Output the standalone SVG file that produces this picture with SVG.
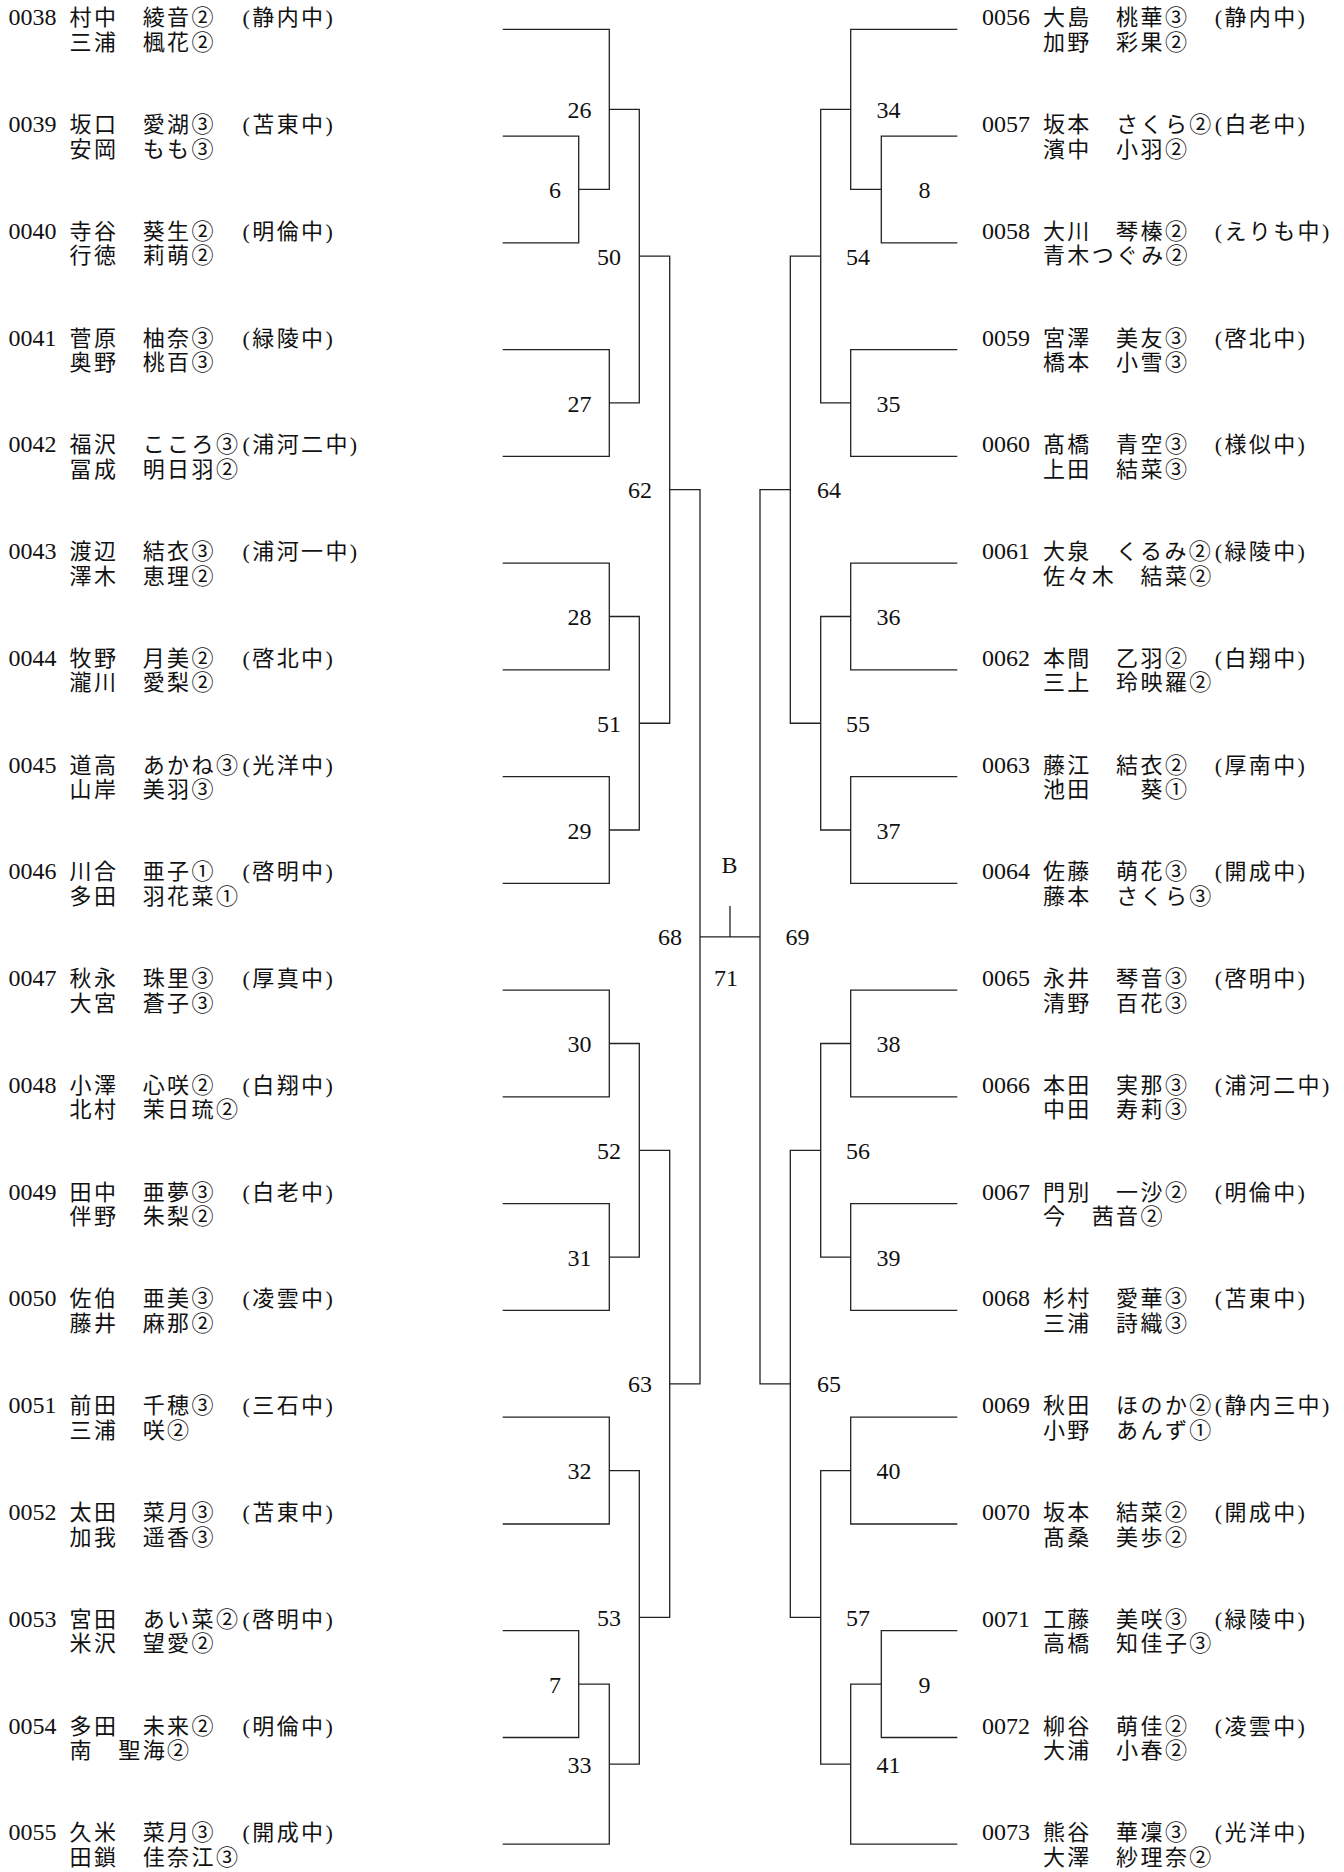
<svg xmlns="http://www.w3.org/2000/svg" width="1344" height="1872" viewBox="0 0 1344 1872">
<style>
.t{font-family:"Liberation Serif","Noto Sans CJK JP",serif;font-size:22px;letter-spacing:2.4px;fill:#111}
.n{font-family:"Liberation Serif",serif;font-size:24px;letter-spacing:0}
.lb{font-family:"Liberation Serif",serif;font-size:24px;fill:#111}
.le{text-anchor:end}
.ls{text-anchor:start}
.lm{text-anchor:middle}
.l{fill:none;stroke:#222;stroke-width:1.3}
</style>
<rect width="1344" height="1872" fill="#fff"/>
<g id="connectors" class="l">
<path d="M502.7 136.1H578.7V242.8H502.7"/>
<path d="M502.7 29.3H609.3V189.45H578.7"/>
<path d="M502.7 349.6H609.3V456.3H502.7"/>
<path d="M609.3 109.4H639.3V402.95H609.3"/>
<path d="M502.7 563.1H609.3V669.9H502.7"/>
<path d="M502.7 776.6H609.3V883.4H502.7"/>
<path d="M609.3 616.5H639.3V830H609.3"/>
<path d="M639.3 256.2H669.7V723.25H639.3"/>
<path d="M502.7 990.1H609.3V1096.9H502.7"/>
<path d="M502.7 1203.7H609.3V1310.4H502.7"/>
<path d="M609.3 1043.5H639.3V1257.05H609.3"/>
<path d="M502.7 1417.2H609.3V1524H502.7"/>
<path d="M502.7 1630.7H578.7V1737.5H502.7"/>
<path d="M578.7 1684.1H609.3V1844.2H502.7"/>
<path d="M609.3 1470.6H639.3V1764.15H609.3"/>
<path d="M639.3 1150.3H669.7V1617.4H639.3"/>
<path d="M669.7 489.7H700V1383.85H669.7"/>
<path d="M957.3 136.1H881.3V242.8H957.3"/>
<path d="M957.3 29.3H850.7V189.45H881.3"/>
<path d="M957.3 349.6H850.7V456.3H957.3"/>
<path d="M850.7 109.4H820.7V402.95H850.7"/>
<path d="M957.3 563.1H850.7V669.9H957.3"/>
<path d="M957.3 776.6H850.7V883.4H957.3"/>
<path d="M850.7 616.5H820.7V830H850.7"/>
<path d="M820.7 256.2H790.3V723.25H820.7"/>
<path d="M957.3 990.1H850.7V1096.9H957.3"/>
<path d="M957.3 1203.7H850.7V1310.4H957.3"/>
<path d="M850.7 1043.5H820.7V1257.05H850.7"/>
<path d="M957.3 1417.2H850.7V1524H957.3"/>
<path d="M957.3 1630.7H881.3V1737.5H957.3"/>
<path d="M881.3 1684.1H850.7V1844.2H957.3"/>
<path d="M850.7 1470.6H820.7V1764.15H850.7"/>
<path d="M820.7 1150.3H790.3V1617.4H820.7"/>
<path d="M790.3 489.7H760V1383.85H790.3"/>
<path d="M700 936.8H760M730 936.8V906"/>
</g>
<g id="matches" class="lb">
<text id="m6" class="le" x="561" y="198.05">6</text>
<text id="m26" class="le" x="591.5" y="118">26</text>
<text id="m27" class="le" x="591.5" y="411.55">27</text>
<text id="m50" class="le" x="621" y="264.8">50</text>
<text id="m28" class="le" x="591.5" y="625.1">28</text>
<text id="m29" class="le" x="591.5" y="838.6">29</text>
<text id="m51" class="le" x="621" y="731.85">51</text>
<text id="m62" class="le" x="652" y="498.3">62</text>
<text id="m30" class="le" x="591.5" y="1052.1">30</text>
<text id="m31" class="le" x="591.5" y="1265.65">31</text>
<text id="m52" class="le" x="621" y="1158.9">52</text>
<text id="m32" class="le" x="591.5" y="1479.2">32</text>
<text id="m7" class="le" x="561" y="1692.7">7</text>
<text id="m33" class="le" x="591.5" y="1772.75">33</text>
<text id="m53" class="le" x="621" y="1626">53</text>
<text id="m63" class="le" x="652" y="1392.45">63</text>
<text id="m68" class="le" x="682" y="945.4">68</text>
<text id="m34" class="ls" x="876.5" y="118">34</text>
<text id="m8" class="ls" x="918.5" y="198.05">8</text>
<text id="m54" class="ls" x="846" y="264.8">54</text>
<text id="m35" class="ls" x="876.5" y="411.55">35</text>
<text id="m64" class="ls" x="817" y="498.3">64</text>
<text id="m36" class="ls" x="876.5" y="625.1">36</text>
<text id="m37" class="ls" x="876.5" y="838.6">37</text>
<text id="m55" class="ls" x="846" y="731.85">55</text>
<text id="m69" class="ls" x="785.5" y="945.4">69</text>
<text id="m38" class="ls" x="876.5" y="1052.1">38</text>
<text id="m39" class="ls" x="876.5" y="1265.65">39</text>
<text id="m56" class="ls" x="846" y="1158.9">56</text>
<text id="m65" class="ls" x="817" y="1392.45">65</text>
<text id="m40" class="ls" x="876.5" y="1479.2">40</text>
<text id="m9" class="ls" x="918.5" y="1692.7">9</text>
<text id="m41" class="ls" x="876.5" y="1772.75">41</text>
<text id="m57" class="ls" x="846" y="1626">57</text>
<text id="m71" class="lm" x="726" y="985.7">71</text>
<text id="mB" class="lm" x="729.5" y="873">B</text>
</g>
<g id="left-players" class="t">
<g id="p0038" transform="translate(0,29.3)"><text y="-4"><tspan class="n" x="8.5">0038</tspan><tspan x="69.5">村中</tspan><tspan x="142.7">綾音②</tspan><tspan x="242.5">(静内中)</tspan></text><text y="20.5"><tspan x="69.5">三浦</tspan><tspan x="142.7">楓花②</tspan></text></g>
<g id="p0039" transform="translate(0,136.1)"><text y="-4"><tspan class="n" x="8.5">0039</tspan><tspan x="69.5">坂口</tspan><tspan x="142.7">愛湖③</tspan><tspan x="242.5">(苫東中)</tspan></text><text y="20.5"><tspan x="69.5">安岡</tspan><tspan x="142.7">もも③</tspan></text></g>
<g id="p0040" transform="translate(0,242.8)"><text y="-4"><tspan class="n" x="8.5">0040</tspan><tspan x="69.5">寺谷</tspan><tspan x="142.7">葵生②</tspan><tspan x="242.5">(明倫中)</tspan></text><text y="20.5"><tspan x="69.5">行徳</tspan><tspan x="142.7">莉萌②</tspan></text></g>
<g id="p0041" transform="translate(0,349.6)"><text y="-4"><tspan class="n" x="8.5">0041</tspan><tspan x="69.5">菅原</tspan><tspan x="142.7">柚奈③</tspan><tspan x="242.5">(緑陵中)</tspan></text><text y="20.5"><tspan x="69.5">奥野</tspan><tspan x="142.7">桃百③</tspan></text></g>
<g id="p0042" transform="translate(0,456.3)"><text y="-4"><tspan class="n" x="8.5">0042</tspan><tspan x="69.5">福沢</tspan><tspan x="142.7">こころ③</tspan><tspan x="242.5">(浦河二中)</tspan></text><text y="20.5"><tspan x="69.5">冨成</tspan><tspan x="142.7">明日羽②</tspan></text></g>
<g id="p0043" transform="translate(0,563.1)"><text y="-4"><tspan class="n" x="8.5">0043</tspan><tspan x="69.5">渡辺</tspan><tspan x="142.7">結衣③</tspan><tspan x="242.5">(浦河一中)</tspan></text><text y="20.5"><tspan x="69.5">澤木</tspan><tspan x="142.7">恵理②</tspan></text></g>
<g id="p0044" transform="translate(0,669.9)"><text y="-4"><tspan class="n" x="8.5">0044</tspan><tspan x="69.5">牧野</tspan><tspan x="142.7">月美②</tspan><tspan x="242.5">(啓北中)</tspan></text><text y="20.5"><tspan x="69.5">瀧川</tspan><tspan x="142.7">愛梨②</tspan></text></g>
<g id="p0045" transform="translate(0,776.6)"><text y="-4"><tspan class="n" x="8.5">0045</tspan><tspan x="69.5">道高</tspan><tspan x="142.7">あかね③</tspan><tspan x="242.5">(光洋中)</tspan></text><text y="20.5"><tspan x="69.5">山岸</tspan><tspan x="142.7">美羽③</tspan></text></g>
<g id="p0046" transform="translate(0,883.4)"><text y="-4"><tspan class="n" x="8.5">0046</tspan><tspan x="69.5">川合</tspan><tspan x="142.7">亜子①</tspan><tspan x="242.5">(啓明中)</tspan></text><text y="20.5"><tspan x="69.5">多田</tspan><tspan x="142.7">羽花菜①</tspan></text></g>
<g id="p0047" transform="translate(0,990.1)"><text y="-4"><tspan class="n" x="8.5">0047</tspan><tspan x="69.5">秋永</tspan><tspan x="142.7">珠里③</tspan><tspan x="242.5">(厚真中)</tspan></text><text y="20.5"><tspan x="69.5">大宮</tspan><tspan x="142.7">蒼子③</tspan></text></g>
<g id="p0048" transform="translate(0,1096.9)"><text y="-4"><tspan class="n" x="8.5">0048</tspan><tspan x="69.5">小澤</tspan><tspan x="142.7">心咲②</tspan><tspan x="242.5">(白翔中)</tspan></text><text y="20.5"><tspan x="69.5">北村</tspan><tspan x="142.7">茉日琉②</tspan></text></g>
<g id="p0049" transform="translate(0,1203.7)"><text y="-4"><tspan class="n" x="8.5">0049</tspan><tspan x="69.5">田中</tspan><tspan x="142.7">亜夢③</tspan><tspan x="242.5">(白老中)</tspan></text><text y="20.5"><tspan x="69.5">伴野</tspan><tspan x="142.7">朱梨②</tspan></text></g>
<g id="p0050" transform="translate(0,1310.4)"><text y="-4"><tspan class="n" x="8.5">0050</tspan><tspan x="69.5">佐伯</tspan><tspan x="142.7">亜美③</tspan><tspan x="242.5">(凌雲中)</tspan></text><text y="20.5"><tspan x="69.5">藤井</tspan><tspan x="142.7">麻那②</tspan></text></g>
<g id="p0051" transform="translate(0,1417.2)"><text y="-4"><tspan class="n" x="8.5">0051</tspan><tspan x="69.5">前田</tspan><tspan x="142.7">千穂③</tspan><tspan x="242.5">(三石中)</tspan></text><text y="20.5"><tspan x="69.5">三浦</tspan><tspan x="142.7">咲②</tspan></text></g>
<g id="p0052" transform="translate(0,1524)"><text y="-4"><tspan class="n" x="8.5">0052</tspan><tspan x="69.5">太田</tspan><tspan x="142.7">菜月③</tspan><tspan x="242.5">(苫東中)</tspan></text><text y="20.5"><tspan x="69.5">加我</tspan><tspan x="142.7">遥香③</tspan></text></g>
<g id="p0053" transform="translate(0,1630.7)"><text y="-4"><tspan class="n" x="8.5">0053</tspan><tspan x="69.5">宮田</tspan><tspan x="142.7">あい菜②</tspan><tspan x="242.5">(啓明中)</tspan></text><text y="20.5"><tspan x="69.5">米沢</tspan><tspan x="142.7">望愛②</tspan></text></g>
<g id="p0054" transform="translate(0,1737.5)"><text y="-4"><tspan class="n" x="8.5">0054</tspan><tspan x="69.5">多田</tspan><tspan x="142.7">未来②</tspan><tspan x="242.5">(明倫中)</tspan></text><text y="20.5"><tspan x="69.5">南</tspan><tspan x="118.3">聖海②</tspan></text></g>
<g id="p0055" transform="translate(0,1844.2)"><text y="-4"><tspan class="n" x="8.5">0055</tspan><tspan x="69.5">久米</tspan><tspan x="142.7">菜月③</tspan><tspan x="242.5">(開成中)</tspan></text><text y="20.5"><tspan x="69.5">田鎖</tspan><tspan x="142.7">佳奈江③</tspan></text></g>
</g>
<g id="right-players" class="t">
<g id="p0056" transform="translate(973.4,29.3)"><text y="-4"><tspan class="n" x="8.5">0056</tspan><tspan x="69.5">大島</tspan><tspan x="142.7">桃華③</tspan><tspan x="241.3">(静内中)</tspan></text><text y="20.5"><tspan x="69.5">加野</tspan><tspan x="142.7">彩果②</tspan></text></g>
<g id="p0057" transform="translate(973.4,136.1)"><text y="-4"><tspan class="n" x="8.5">0057</tspan><tspan x="69.5">坂本</tspan><tspan x="142.7">さくら②</tspan><tspan x="241.3">(白老中)</tspan></text><text y="20.5"><tspan x="69.5">濱中</tspan><tspan x="142.7">小羽②</tspan></text></g>
<g id="p0058" transform="translate(973.4,242.8)"><text y="-4"><tspan class="n" x="8.5">0058</tspan><tspan x="69.5">大川</tspan><tspan x="142.7">琴榛②</tspan><tspan x="241.3">(えりも中)</tspan></text><text y="20.5"><tspan x="69.5">青木つぐみ②</tspan></text></g>
<g id="p0059" transform="translate(973.4,349.6)"><text y="-4"><tspan class="n" x="8.5">0059</tspan><tspan x="69.5">宮澤</tspan><tspan x="142.7">美友③</tspan><tspan x="241.3">(啓北中)</tspan></text><text y="20.5"><tspan x="69.5">橋本</tspan><tspan x="142.7">小雪③</tspan></text></g>
<g id="p0060" transform="translate(973.4,456.3)"><text y="-4"><tspan class="n" x="8.5">0060</tspan><tspan x="69.5">髙橋</tspan><tspan x="142.7">青空③</tspan><tspan x="241.3">(様似中)</tspan></text><text y="20.5"><tspan x="69.5">上田</tspan><tspan x="142.7">結菜③</tspan></text></g>
<g id="p0061" transform="translate(973.4,563.1)"><text y="-4"><tspan class="n" x="8.5">0061</tspan><tspan x="69.5">大泉</tspan><tspan x="142.7">くるみ②</tspan><tspan x="241.3">(緑陵中)</tspan></text><text y="20.5"><tspan x="69.5">佐々木</tspan><tspan x="167.1">結菜②</tspan></text></g>
<g id="p0062" transform="translate(973.4,669.9)"><text y="-4"><tspan class="n" x="8.5">0062</tspan><tspan x="69.5">本間</tspan><tspan x="142.7">乙羽②</tspan><tspan x="241.3">(白翔中)</tspan></text><text y="20.5"><tspan x="69.5">三上</tspan><tspan x="142.7">玲映羅②</tspan></text></g>
<g id="p0063" transform="translate(973.4,776.6)"><text y="-4"><tspan class="n" x="8.5">0063</tspan><tspan x="69.5">藤江</tspan><tspan x="142.7">結衣②</tspan><tspan x="241.3">(厚南中)</tspan></text><text y="20.5"><tspan x="69.5">池田</tspan><tspan x="167.1">葵①</tspan></text></g>
<g id="p0064" transform="translate(973.4,883.4)"><text y="-4"><tspan class="n" x="8.5">0064</tspan><tspan x="69.5">佐藤</tspan><tspan x="142.7">萌花③</tspan><tspan x="241.3">(開成中)</tspan></text><text y="20.5"><tspan x="69.5">藤本</tspan><tspan x="142.7">さくら③</tspan></text></g>
<g id="p0065" transform="translate(973.4,990.1)"><text y="-4"><tspan class="n" x="8.5">0065</tspan><tspan x="69.5">永井</tspan><tspan x="142.7">琴音③</tspan><tspan x="241.3">(啓明中)</tspan></text><text y="20.5"><tspan x="69.5">清野</tspan><tspan x="142.7">百花③</tspan></text></g>
<g id="p0066" transform="translate(973.4,1096.9)"><text y="-4"><tspan class="n" x="8.5">0066</tspan><tspan x="69.5">本田</tspan><tspan x="142.7">実那③</tspan><tspan x="241.3">(浦河二中)</tspan></text><text y="20.5"><tspan x="69.5">中田</tspan><tspan x="142.7">寿莉③</tspan></text></g>
<g id="p0067" transform="translate(973.4,1203.7)"><text y="-4"><tspan class="n" x="8.5">0067</tspan><tspan x="69.5">門別</tspan><tspan x="142.7">一沙②</tspan><tspan x="241.3">(明倫中)</tspan></text><text y="20.5"><tspan x="69.5">今</tspan><tspan x="118.3">茜音②</tspan></text></g>
<g id="p0068" transform="translate(973.4,1310.4)"><text y="-4"><tspan class="n" x="8.5">0068</tspan><tspan x="69.5">杉村</tspan><tspan x="142.7">愛華③</tspan><tspan x="241.3">(苫東中)</tspan></text><text y="20.5"><tspan x="69.5">三浦</tspan><tspan x="142.7">詩織③</tspan></text></g>
<g id="p0069" transform="translate(973.4,1417.2)"><text y="-4"><tspan class="n" x="8.5">0069</tspan><tspan x="69.5">秋田</tspan><tspan x="142.7">ほのか②</tspan><tspan x="241.3">(静内三中)</tspan></text><text y="20.5"><tspan x="69.5">小野</tspan><tspan x="142.7">あんず①</tspan></text></g>
<g id="p0070" transform="translate(973.4,1524)"><text y="-4"><tspan class="n" x="8.5">0070</tspan><tspan x="69.5">坂本</tspan><tspan x="142.7">結菜②</tspan><tspan x="241.3">(開成中)</tspan></text><text y="20.5"><tspan x="69.5">髙桑</tspan><tspan x="142.7">美歩②</tspan></text></g>
<g id="p0071" transform="translate(973.4,1630.7)"><text y="-4"><tspan class="n" x="8.5">0071</tspan><tspan x="69.5">工藤</tspan><tspan x="142.7">美咲③</tspan><tspan x="241.3">(緑陵中)</tspan></text><text y="20.5"><tspan x="69.5">高橋</tspan><tspan x="142.7">知佳子③</tspan></text></g>
<g id="p0072" transform="translate(973.4,1737.5)"><text y="-4"><tspan class="n" x="8.5">0072</tspan><tspan x="69.5">柳谷</tspan><tspan x="142.7">萌佳②</tspan><tspan x="241.3">(凌雲中)</tspan></text><text y="20.5"><tspan x="69.5">大浦</tspan><tspan x="142.7">小春②</tspan></text></g>
<g id="p0073" transform="translate(973.4,1844.2)"><text y="-4"><tspan class="n" x="8.5">0073</tspan><tspan x="69.5">熊谷</tspan><tspan x="142.7">華凜③</tspan><tspan x="241.3">(光洋中)</tspan></text><text y="20.5"><tspan x="69.5">大澤</tspan><tspan x="142.7">紗理奈②</tspan></text></g>
</g>
</svg>
